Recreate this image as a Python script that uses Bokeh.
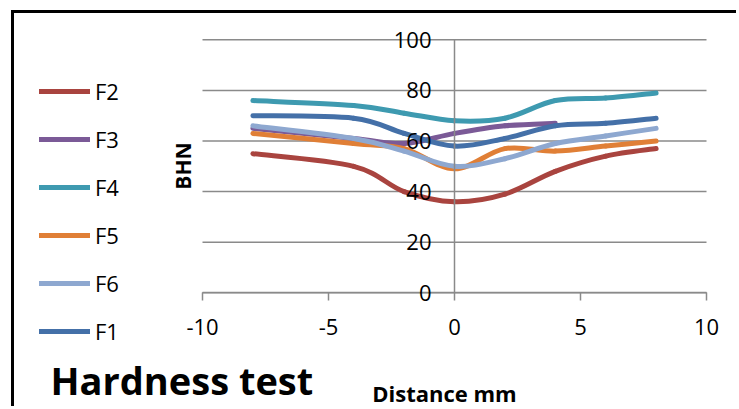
import numpy as np
from bokeh.plotting import figure
from bokeh.models import (ColumnDataSource, FixedTicker, LinearAxis, Legend,
                          LegendItem, Label, Range1d, PrintfTickFormatter)
from bokeh.embed import file_html
from bokeh.resources import INLINE

# ---- data ----
distance = [-8, -4, -2, 0, 2, 4, 6, 8]
f2 = [55, 50, 40, 36, 39, 48, 54, 57]
f3 = [65, 61, 59, 63, 66, 67]
f4 = [76, 74, 71, 68, 69, 76, 77, 79]
f5 = [63, 59, 57, 49, 57, 56, 58, 60]
f6 = [66, 61, 56, 50, 53, 59, 62, 65]
f1 = [70, 69, 63, 58, 61, 66, 67, 69]

series_names = ["F2", "F3", "F4", "F5", "F6", "F1"]
series_values = [f2, f3, f4, f5, f6, f1]
series_colors = ["#A9443F", "#7B5A97", "#3E9AB0", "#E07F36", "#8EA8D0", "#4470A8"]

x_ticks = [-10, -5, 0, 5, 10]
y_ticks = [0, 20, 40, 60, 80, 100]
title_text = "Hardness test"
x_label = "Distance mm"
y_label = "BHN"

FONT = "Open Sans"
GRID = "#8a8a8a"

# canvas geometry (px) – the plotting area of the chart sits inside a larger frame
W, H = 725, 396
PX_X = 25.2          # px per x unit
PX_Y = 2.53          # px per y unit
LEFT_PX, RIGHT_PX = 188, 33      # room left of x=-10 and right of x=10
TOP_PX, BOTTOM_PX = 26.3, 116.7  # room above y=100 and below y=0


def smooth_segments(xs, ys):
    """Bezier control points (Catmull-Rom style, like Excel's smoothed line)."""
    x = np.asarray(xs, dtype=float)
    y = np.asarray(ys, dtype=float)
    xp = np.concatenate([[x[0]], x, [x[-1]]])
    yp = np.concatenate([[y[0]], y, [y[-1]]])
    d = dict(x0=[], y0=[], x1=[], y1=[], cx0=[], cy0=[], cx1=[], cy1=[])
    for i in range(len(x) - 1):
        d["x0"].append(x[i]); d["y0"].append(y[i])
        d["x1"].append(x[i + 1]); d["y1"].append(y[i + 1])
        d["cx0"].append(x[i] + (xp[i + 2] - xp[i]) / 6.0)
        d["cy0"].append(y[i] + (yp[i + 2] - yp[i]) / 6.0)
        d["cx1"].append(x[i + 1] - (xp[i + 3] - xp[i + 1]) / 6.0)
        d["cy1"].append(y[i + 1] - (yp[i + 3] - yp[i + 1]) / 6.0)
    return ColumnDataSource(d)


x_lo, x_hi = x_ticks[0], x_ticks[-1]
y_lo, y_hi = y_ticks[0], y_ticks[-1]
p = figure(width=W, height=H, output_backend="svg", toolbar_location=None,
           x_range=Range1d(x_lo - LEFT_PX / PX_X, x_hi + RIGHT_PX / PX_X),
           y_range=Range1d(y_lo - BOTTOM_PX / PX_Y, y_hi + TOP_PX / PX_Y),
           min_border=0, min_border_left=0, min_border_right=0,
           min_border_top=0, min_border_bottom=0)
p.styles = {"margin-left": "11px", "margin-top": "10px",
            "border-left": "3px solid black", "border-top": "3px solid black"}
p.outline_line_color = None
p.background_fill_color = "white"
p.border_fill_color = "white"

# horizontal grid lines, spanning x = -10 .. 10 only
p.xgrid.visible = False
p.ygrid.visible = False
grid_src = ColumnDataSource(dict(x0=[x_lo] * len(y_ticks), x1=[x_hi] * len(y_ticks),
                                 y=y_ticks))
p.segment(x0="x0", x1="x1", y0="y", y1="y", source=grid_src,
          line_color=GRID, line_width=1.5)

# y axis crossing at x = 0
yax = p.yaxis[0]
yax.fixed_location = 0
yax.bounds = (y_lo, y_hi)
yax.ticker = FixedTicker(ticks=y_ticks)
yax.axis_line_color = GRID
yax.axis_line_width = 1.5
yax.major_tick_in = 0
yax.major_tick_out = 0
yax.minor_tick_in = 0
yax.minor_tick_out = 0
yax.major_label_standoff = 23
yax.major_label_text_font = FONT
yax.major_label_text_font_size = "22px"
yax.major_label_text_color = "black"

# axis at the left edge of the plotting area, only carrying the "BHN" title
bhn_axis = LinearAxis(fixed_location=x_lo, bounds=(y_lo, y_hi),
                      ticker=FixedTicker(ticks=[]), axis_label=y_label,
                      axis_line_color=None, major_tick_in=0, major_tick_out=0,
                      minor_tick_in=0, minor_tick_out=0, major_label_standoff=0,
                      axis_label_standoff=6, axis_label_text_font=FONT,
                      axis_label_text_font_style="bold",
                      axis_label_text_font_size="21px",
                      axis_label_text_color="black")
p.add_layout(bhn_axis, "left")

# x axis at y = 0
xax = p.xaxis[0]
xax.fixed_location = 0
xax.bounds = (x_lo, x_hi)
xax.ticker = FixedTicker(ticks=x_ticks)
xax.formatter = PrintfTickFormatter(format="%d")
xax.axis_line_color = GRID
xax.axis_line_width = 1.5
xax.major_tick_line_color = GRID
xax.major_tick_line_width = 1.5
xax.major_tick_in = 0
xax.major_tick_out = 8
xax.minor_tick_in = 0
xax.minor_tick_out = 0
xax.major_label_standoff = 18
xax.major_label_text_font = FONT
xax.major_label_text_font_size = "22px"
xax.major_label_text_color = "black"

# axis title "Distance mm" (slightly left of centre, as in the reference)
dist_axis = LinearAxis(fixed_location=y_lo, bounds=(x_lo - 0.8, x_hi),
                       ticker=FixedTicker(ticks=[]), axis_label=x_label,
                       axis_line_color=None, major_tick_in=0, major_tick_out=0,
                       minor_tick_in=0, minor_tick_out=0, major_label_standoff=0,
                       axis_label_standoff=85, axis_label_text_font=FONT,
                       axis_label_text_font_style="bold",
                       axis_label_text_font_size="22px",
                       axis_label_text_color="black")
p.add_layout(dist_axis, "below")

# series
items = []
for name, vals, col in zip(series_names, series_values, series_colors):
    src = smooth_segments(distance[:len(vals)], vals)
    r = p.bezier(x0="x0", y0="y0", x1="x1", y1="y1", cx0="cx0", cy0="cy0",
                 cx1="cx1", cy1="cy1", source=src, line_color=col,
                 line_width=5, line_cap="round")
    items.append(LegendItem(label=name, renderers=[r]))

legend = Legend(items=items, location=(25, 63), orientation="vertical",
                glyph_width=51, glyph_height=30, label_height=30, spacing=18,
                label_standoff=5, padding=0, margin=0,
                border_line_color=None, background_fill_alpha=0,
                label_text_font=FONT, label_text_font_size="22px",
                label_text_color="black")
p.add_layout(legend)

title = Label(x=36, y=30, x_units="screen", y_units="screen",
              text=title_text, text_font=FONT, text_font_style="bold",
              text_font_size="38px", text_color="black",
              text_align="left", text_baseline="alphabetic")
p.add_layout(title)

open("out.html", "w").write(file_html(p, INLINE))
